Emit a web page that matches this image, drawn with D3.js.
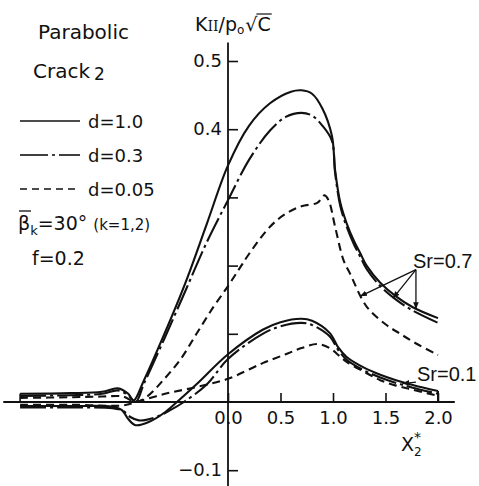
<!DOCTYPE html>
<html>
<head>
<meta charset="utf-8">
<script src="https://cdn.jsdelivr.net/npm/d3@7"></script>
<style>
  html, body { margin: 0; padding: 0; background: #fff; }
  svg { display: block; }
  text { font-family: "DejaVu Sans", sans-serif; fill: #111; }
</style>
</head>
<body>
<svg id="chart" width="479" height="486"></svg>
<script>
// ---------- data ----------
const xTicks = [0, 0.5, 1.0, 1.5, 2.0];
const xTickLabels = ["0.0", "0.5", "1.0", "1.5", "2.0"];
const yTicks = [0.5, 0.4, 0.3, 0.2, 0.1, -0.1];
const yTickLabels = { "0.5": "0.5", "0.4": "0.4", "-0.1": "\u22120.1" };

// Sr = 0.7
const sr07_d10 = [[-1.98,0.012],[-1.5,0.013],[-1.2,0.015],[-1.05,0.02],[-0.95,0.012],[-0.9,0.002],[-0.8,0.032],[-0.6,0.102],[-0.4,0.177],[-0.2,0.262],[0,0.347],[0.2,0.405],[0.4,0.438],[0.6,0.455],[0.7,0.457],[0.8,0.452],[0.9,0.43],[0.99,0.39],[1.02,0.34],[1.07,0.292],[1.13,0.262],[1.2,0.236],[1.26,0.218],[1.32,0.2],[1.45,0.175],[1.6,0.155],[1.76,0.139],[2.0,0.123]];
const sr07_d03 = [[-1.98,0.009],[-1.5,0.01],[-1.2,0.012],[-1.05,0.017],[-0.95,0.01],[-0.88,0.0],[-0.8,0.027],[-0.6,0.095],[-0.4,0.165],[-0.2,0.235],[0,0.296],[0.2,0.355],[0.4,0.398],[0.55,0.418],[0.7,0.424],[0.8,0.42],[0.9,0.405],[0.99,0.383],[1.02,0.336],[1.07,0.287],[1.13,0.257],[1.2,0.231],[1.26,0.213],[1.32,0.195],[1.45,0.17],[1.6,0.15],[1.76,0.134],[2.0,0.116]];
const sr07_d005 = [[-1.98,0.006],[-1.5,0.007],[-1.2,0.008],[-1.0,0.008],[-0.88,0.0],[-0.77,0.008],[-0.6,0.035],[-0.45,0.063],[-0.3,0.1],[-0.14,0.139],[0,0.17],[0.11,0.196],[0.2,0.217],[0.4,0.257],[0.55,0.276],[0.7,0.287],[0.85,0.292],[0.92,0.303],[0.96,0.295],[1.02,0.257],[1.1,0.208],[1.16,0.189],[1.32,0.14],[1.5,0.114],[1.64,0.1],[1.8,0.085],[2.0,0.069]];

// Sr = 0.1
const sr01_d10 = [[-1.98,-0.006],[-1.5,-0.006],[-1.1,-0.007],[-1.01,-0.012],[-0.95,-0.025],[-0.88,-0.034],[-0.75,-0.029],[-0.6,-0.015],[-0.486,0.0],[-0.3,0.026],[0,0.07],[0.33,0.106],[0.5,0.117],[0.7,0.122],[0.8,0.119],[0.97,0.101],[1.05,0.08],[1.13,0.066],[1.3,0.05],[1.45,0.04],[1.6,0.032],[1.76,0.025],[2.0,0.016]];
const sr01_d03 = [[-1.98,-0.008],[-1.5,-0.008],[-1.1,-0.009],[-1.0,-0.013],[-0.93,-0.022],[-0.85,-0.027],[-0.7,-0.023],[-0.55,-0.012],[-0.42,0.0],[-0.2,0.026],[0,0.063],[0.33,0.1],[0.5,0.111],[0.7,0.116],[0.8,0.113],[0.97,0.096],[1.05,0.076],[1.13,0.062],[1.3,0.046],[1.45,0.036],[1.6,0.028],[1.76,0.021],[2.0,0.012]];
const sr01_d005 = [[-1.98,-0.004],[-1.5,-0.004],[-1.0,-0.005],[-0.87,0.0],[-0.6,0.012],[-0.3,0.022],[0,0.034],[0.33,0.057],[0.55,0.07],[0.7,0.079],[0.85,0.085],[0.97,0.079],[1.05,0.069],[1.13,0.059],[1.3,0.044],[1.45,0.032],[1.6,0.024],[1.76,0.018],[2.0,0.009]];

// annotations (data coordinates)
const sr07Origin = [1.79, 0.194];
const sr07Targets = [[1.257, 0.155], [1.571, 0.152], [1.79, 0.136]];
const sr01Arrow = [[1.79, 0.029], [1.66, 0.027]];

// ---------- drawing ----------
const svg = d3.select("#chart");
const x = d3.scaleLinear().domain([0, 2]).range([228, 438]);
const y = d3.scaleLinear().domain([0, 0.5]).range([402, 61]);
const ink = "#111";

// axes
const xAxis = d3.axisBottom(x).tickValues(xTicks)
  .tickFormat((d, i) => xTickLabels[i]).tickSize(-9).tickPadding(9);
const gx = svg.append("g").attr("transform", `translate(0,${y(0)})`).call(xAxis);
gx.select(".domain").remove();
gx.selectAll("line").attr("stroke", ink).attr("stroke-width", 1.6);
gx.selectAll("text").attr("font-size", 18).attr("fill", ink);

const yAxis = d3.axisLeft(y).tickValues(yTicks)
  .tickFormat(d => yTickLabels[String(d)] || "").tickSize(-10).tickPadding(6);
const gy = svg.append("g").attr("transform", `translate(${x(0)},0)`).call(yAxis);
gy.select(".domain").remove();
gy.selectAll("line").attr("stroke", ink).attr("stroke-width", 1.6);
gy.selectAll("text").attr("font-size", 18).attr("fill", ink);

// axis lines
svg.append("line").attr("x1", x(-2.14)).attr("x2", x(2.16)).attr("y1", y(0)).attr("y2", y(0))
  .attr("stroke", ink).attr("stroke-width", 1.8);
svg.append("line").attr("x1", x(0)).attr("x2", x(0)).attr("y1", y(0.527)).attr("y2", y(-0.13))
  .attr("stroke", ink).attr("stroke-width", 1.8);

// curves
const line = d3.line().x(d => x(d[0])).y(d => y(d[1])).curve(d3.curveCatmullRom.alpha(0.5));
const solid = null, dashdot = "26,4,3,4", dashed = "8,5";
const series = [
  { data: sr07_d10, dash: solid },
  { data: sr07_d03, dash: dashdot },
  { data: sr07_d005, dash: dashed },
  { data: sr01_d10, dash: solid },
  { data: sr01_d03, dash: dashdot },
  { data: sr01_d005, dash: dashed }
];
svg.append("g").selectAll("path").data(series).join("path")
  .attr("d", d => line(d.data))
  .attr("fill", "none").attr("stroke", ink).attr("stroke-width", 2.1)
  .attr("stroke-dasharray", d => d.dash);

// end markers
svg.append("line").attr("x1", x(2.0)).attr("x2", x(2.0))
  .attr("y1", y(sr01_d10[sr01_d10.length - 1][1])).attr("y2", y(0))
  .attr("stroke", ink).attr("stroke-width", 2);
svg.append("line").attr("x1", x(-1.98)).attr("x2", x(-1.98))
  .attr("y1", y(sr07_d10[0][1])).attr("y2", y(0))
  .attr("stroke", ink).attr("stroke-width", 1.6);

// arrowheads
const defs = svg.append("defs");
defs.append("marker").attr("id", "ah").attr("viewBox", "0 0 10 10").attr("refX", 10).attr("refY", 5)
  .attr("markerWidth", 7).attr("markerHeight", 7).attr("orient", "auto-start-reverse")
  .attr("markerUnits", "userSpaceOnUse")
  .append("path").attr("d", "M0,1 L10,5 L0,9 Z").attr("fill", ink);

sr07Targets.forEach(t => {
  svg.append("line").attr("x1", x(sr07Origin[0])).attr("y1", y(sr07Origin[1]))
    .attr("x2", x(t[0])).attr("y2", y(t[1]))
    .attr("stroke", ink).attr("stroke-width", 1.3).attr("marker-end", "url(#ah)");
});
svg.append("line").attr("x1", x(sr01Arrow[0][0])).attr("y1", y(sr01Arrow[0][1]))
  .attr("x2", x(sr01Arrow[1][0])).attr("y2", y(sr01Arrow[1][1]))
  .attr("stroke", ink).attr("stroke-width", 1.3).attr("marker-end", "url(#ah)");

// Sr labels
svg.append("text").attr("x", 413).attr("y", 268).attr("font-size", 20)
  .style("font-family", "'Liberation Sans', Arial, sans-serif").text("Sr=0.7");
svg.append("text").attr("x", 417).attr("y", 381).attr("font-size", 20)
  .style("font-family", "'Liberation Sans', Arial, sans-serif").text("Sr=0.1");

// titles
svg.append("text").attr("x", 38).attr("y", 39).attr("font-size", 20).text("Parabolic");
const ck = svg.append("text").attr("x", 33).attr("y", 78).attr("font-size", 20);
ck.append("tspan").text("Crack");
ck.append("tspan").attr("font-size", 17).attr("dx", 4).attr("dy", 2).text("2");

// legend
const legend = [
  { label: "d=1.0", dash: solid, yy: 121 },
  { label: "d=0.3", dash: dashdot, yy: 155 },
  { label: "d=0.05", dash: "7,5", yy: 189 }
];
legend.forEach(l => {
  if (l.dash === dashdot) {
    svg.append("line").attr("x1", 20).attr("x2", 48).attr("y1", l.yy).attr("y2", l.yy).attr("stroke", ink).attr("stroke-width", 1.6);
    svg.append("line").attr("x1", 52).attr("x2", 55).attr("y1", l.yy).attr("y2", l.yy).attr("stroke", ink).attr("stroke-width", 1.6);
    svg.append("line").attr("x1", 59).attr("x2", 80).attr("y1", l.yy).attr("y2", l.yy).attr("stroke", ink).attr("stroke-width", 1.6);
  } else {
    svg.append("line").attr("x1", 20).attr("x2", 80).attr("y1", l.yy).attr("y2", l.yy)
      .attr("stroke", ink).attr("stroke-width", 1.6).attr("stroke-dasharray", l.dash);
  }
  svg.append("text").attr("x", 88).attr("y", l.yy + 7).attr("font-size", 18).text(l.label);
});

// beta line
const bt = svg.append("text").attr("x", 18).attr("y", 230).attr("font-size", 19);
bt.append("tspan").attr("fill", ink).text("\u03B2");
bt.append("tspan").attr("fill", ink).attr("font-size", 13).attr("dy", 5).text("k");
bt.append("tspan").attr("fill", ink).attr("dy", -5).text("=30\u00B0 ");
bt.append("tspan").attr("fill", ink).attr("font-size", 15).text("(k=1,2)");
svg.append("line").attr("x1", 19).attr("x2", 31).attr("y1", 211).attr("y2", 211).attr("stroke", ink).attr("stroke-width", 1.3);

svg.append("text").attr("x", 32).attr("y", 265).attr("font-size", 19).text("f=0.2");

// y axis title
const yt = svg.append("text").attr("x", 195).attr("y", 31).attr("font-size", 19);
yt.append("tspan").text("K");
yt.append("tspan").attr("font-size", 14).attr("font-family", "DejaVu Serif").text("II");
yt.append("tspan").text("/p");
yt.append("tspan").attr("font-size", 12).attr("dy", 3).text("o");
const ytEnd = yt.node().getComputedTextLength();
const rt = svg.append("text").attr("x", 195 + ytEnd + 1).attr("y", 31).attr("font-size", 19).text("\u221AC");
const rtLen = rt.node().getComputedTextLength();
const rootW = (() => { const t = svg.append("text").attr("font-size", 19).text("\u221A"); const w = t.node().getComputedTextLength(); t.remove(); return w; })();
svg.append("line").attr("x1", 195 + ytEnd + 1 + rootW - 1).attr("x2", 195 + ytEnd + 1 + rtLen + 1)
  .attr("y1", 14).attr("y2", 14).attr("stroke", ink).attr("stroke-width", 1.2);

// x axis title
svg.append("text").attr("x", 401).attr("y", 451).attr("font-size", 19).text("X");
svg.append("text").attr("x", 414).attr("y", 442).attr("font-size", 14).text("*");
svg.append("text").attr("x", 414).attr("y", 456).attr("font-size", 12).text("2");
</script>
</body>
</html>
